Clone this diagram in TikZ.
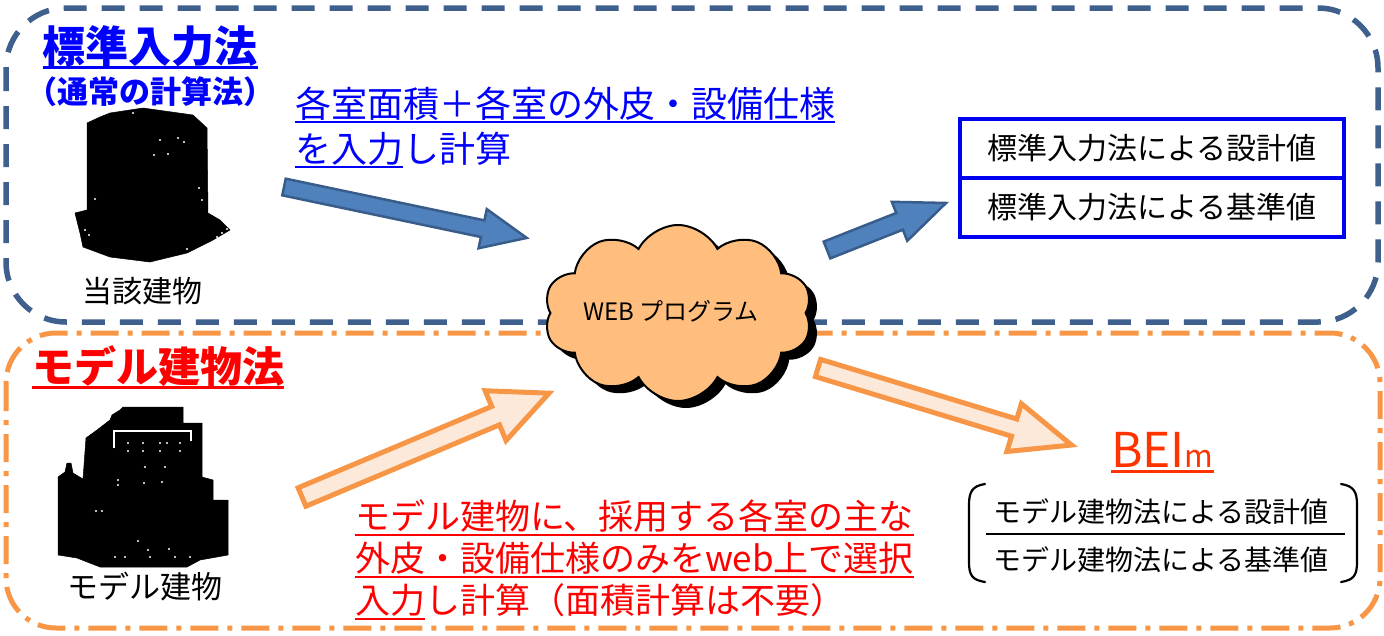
\documentclass[tikz,border=0pt]{standalone}
\usepackage{fontspec}
\setmainfont{Noto Sans CJK JP}
\usetikzlibrary{shapes.symbols}

\definecolor{frameblue}{HTML}{3F5F8C}
\definecolor{frameorange}{HTML}{F79646}
\definecolor{arrowblue}{HTML}{4F81BD}
\definecolor{arrowblueedge}{HTML}{385D8A}
\definecolor{arroworangefill}{HTML}{FDE9D9}
\definecolor{cloudfill}{HTML}{FFBE7D}
\definecolor{textblue}{HTML}{0000FF}
\definecolor{textred}{HTML}{FF0000}
\definecolor{beired}{HTML}{FF3300}
\definecolor{boxblue}{HTML}{0000F0}

\newcommand\fs[1]{\fontsize{#1}{#1}\selectfont}
% block arrow: tail x, tail y, angle, length, shaft half width, head half width, head length, style
\newcommand\blockarrow[8]{%
  \begin{scope}[shift={(#1,#2)},rotate=#3]
    \draw[#8] (0,-#5) -- ({#4-#7},-#5) -- ({#4-#7},-#6) -- (#4,0)
      -- ({#4-#7},#6) -- ({#4-#7},#5) -- (0,#5) -- cycle;
  \end{scope}}

\begin{document}
\begin{tikzpicture}[x=1pt,y=-1pt,
  topframe/.style={draw=frameblue, line width=5.5pt, dash pattern=on 23pt off 15pt, rounded corners=60pt},
  bottomframe/.style={draw=frameorange, line width=5pt, dash pattern=on 28pt off 9pt on 5pt off 9pt, rounded corners=50pt},
  bluearrow/.style={fill=arrowblue, draw=arrowblueedge, line width=2.5pt, line join=miter},
  orangearrow/.style={fill=arroworangefill, draw=frameorange, line width=5pt, line join=miter},
  lbl/.style={inner sep=0pt, outer sep=0pt},
  valuebox/.style={draw=boxblue, line width=4pt, minimum width=384pt, minimum height=59pt, inner sep=0pt, font=\fs{30}},
  cloudshape/.style={cloud, cloud puffs=10, cloud puff arc=125, cloud ignores aspect,
    minimum width=268pt, minimum height=176pt, inner sep=0pt},
  silhouette/.style={fill=black, draw=black, line width=0.5pt, line join=round},
  windowdot/.style={fill=white},
]
\useasboundingbox (0,0) rectangle (1384,635);

% method frames
\draw[topframe] (6,8) rectangle (1378,322);
\draw[bottomframe] (6,333) rectangle (1380,628);

% --- standard input method ---
\node[lbl, text=textblue, font=\fs{43}\bfseries] (stdtitle) at (150,46) {標準入力法};
\draw[textblue, line width=2.5pt] ([yshift=-5pt]stdtitle.base west) -- ([yshift=-5pt]stdtitle.base east);
\node[lbl, text=textblue, font=\fs{31}\bfseries] (stdsub) at (151,92) {（通常の計算法）};

% actual building silhouette
\draw[silhouette] (100,117) -- (110,113) -- (143,108) -- (193,115) -- (207,128) -- (208,213)
  -- (220,220) -- (230,230) -- (213,240) -- (187,253) -- (150,262) -- (110,257)
  -- (83,247) -- (80,233) -- (75,213) -- (87,210) -- (87,123) -- cycle;
\foreach \p in {(133,113),(160,140),(178,138),(184,142),(154,155),(168,154),(95,199),(199,188),
  (202,200),(85,230),(89,235),(187,249),(217,237),(222,233),(227,229)}
  \fill[windowdot] \p circle (1.1);
\node[lbl, font=\fs{30}] (actuallbl) at (142,291) {当該建物};

% input description
\node[lbl, anchor=base west, text=textblue, font=\fs{36}] (stdin1) at (295,117) {各室面積＋各室の外皮・設備仕様};
\draw[textblue, line width=2pt] ([yshift=-5pt]stdin1.base west) -- ([yshift=-5pt]stdin1.base east);
\node[lbl, anchor=base west, text=textblue, font=\fs{36}] (stdin2a) at (295,162) {を入力};
\node[lbl, anchor=base west, text=textblue, font=\fs{36}] (stdin2b) at (stdin2a.base east) {し計算};
\draw[textblue, line width=2pt] ([yshift=-5pt]stdin2a.base west) -- ([yshift=-5pt]stdin2a.base east);

% blue arrows
\blockarrow{284}{187}{-11.85}{248}{8.5}{20}{45}{bluearrow}
\blockarrow{827}{250}{21.55}{128}{9}{21}{50}{bluearrow}

% result boxes
\node[valuebox] (stddesign) at (1152,148) {標準入力法による設計値};
\node[valuebox] (stdbase) at (1152,207.5) {標準入力法による基準値};

% --- model building method ---
\node[lbl, text=textred, font=\fs{42}\bfseries] (modtitle) at (158,366) {モデル建物法};
\draw[textred, line width=2.5pt] ([yshift=-5pt]modtitle.base west) -- ([yshift=-5pt]modtitle.base east);

% model building silhouette
\draw[silhouette] (123,407) -- (183,407) -- (183,423) -- (202,423) -- (202,477) -- (213,480)
  -- (213,500) -- (228,500) -- (228,555) -- (200,560) -- (187,567) -- (100,567) -- (77,558)
  -- (58,555) -- (58,477) -- (65,472) -- (67,463) -- (71,463) -- (73,473) -- (83,479)
  -- (86,438) -- (97,430) -- (110,420) -- (112,415) -- (120,410) -- cycle;
\draw[white, line width=2.5pt] (114,448) -- (114,431) -- (191,431) -- (191,441);
\foreach \p in {(128,443),(143,443),(160,443),(167,443),(180,443),(128,451),(143,451),(160,451),
  (180,451),(145,467),(165,467),(118,480),(144,483),(162,482),(118,485),(96,511),(102,511),
  (138,541),(148,550),(169,549),(115,557),(125,557),(150,557),(175,557),(190,557)}
  \fill[windowdot] \p circle (1.1);
\node[lbl, font=\fs{31}] (modellbl) at (145,587) {モデル建物};

% orange arrows
\blockarrow{302}{497}{22.8}{268}{10}{27}{58}{orangearrow}
\blockarrow{818}{368}{-16.9}{265}{9}{25}{60}{orangearrow}

% model input description
\node[lbl, anchor=base west, text=textred, font=\fs{35}] (modin1) at (355,529) {モデル建物に、採用する各室の主な};
\draw[textred, line width=2pt] ([yshift=-6pt]modin1.base west) -- ([yshift=-6pt]modin1.base east);
\node[lbl, anchor=base west, text=textred, font=\fs{35}] (modin2) at (355,571) {外皮・設備仕様のみをweb上で選択};
\draw[textred, line width=2pt] ([yshift=-6pt]modin2.base west) -- ([yshift=-6pt]modin2.base east);
\node[lbl, anchor=base west, text=textred, font=\fs{35}] (modin3a) at (355,613) {入力};
\node[lbl, anchor=base west, text=textred, font=\fs{35}] (modin3b) at (modin3a.base east) {し計算（面積計算は不要）};
\draw[textred, line width=2pt] ([yshift=-6pt]modin3a.base west) -- ([yshift=-6pt]modin3a.base east);

% BEI_m result
\node[lbl, anchor=base west, text=beired, font=\fs{48}] (bei) at (1111,467) {BEI};
\node[lbl, anchor=base west, text=beired, font=\fs{31}] (beim) at (bei.base east) {m};
\draw[beired, line width=3pt] ([yshift=-4pt]bei.base west) -- ([yshift=-4pt]beim.base east);

\node[lbl, font=\fs{28}] (moddesign) at (1161,512) {モデル建物法による設計値};
\node[lbl, font=\fs{28}] (modbase) at (1161,560) {モデル建物法による基準値};
\draw[line width=2pt] (986,534) -- (1345,534);
\draw[line width=2.2pt, line cap=round] (985,484) .. controls (972,486) and (969,492) .. (969,505)
  -- (969,562) .. controls (969,575) and (972,580) .. (985,582);
\draw[line width=2.2pt, line cap=round] (1341,484) .. controls (1354,486) and (1357,492) .. (1357,505)
  -- (1357,562) .. controls (1357,575) and (1354,580) .. (1341,582);

% web program cloud with drop shadow
\node[cloudshape, fill=black] (webshadow) at (686,320) {};
\node[cloudshape, draw=black, fill=cloudfill, line width=2pt] (web) at (678,313) {};
\node[lbl, font=\fs{24}] (webtxt) at (671,311) {WEB プログラム};
\end{tikzpicture}
\end{document}
